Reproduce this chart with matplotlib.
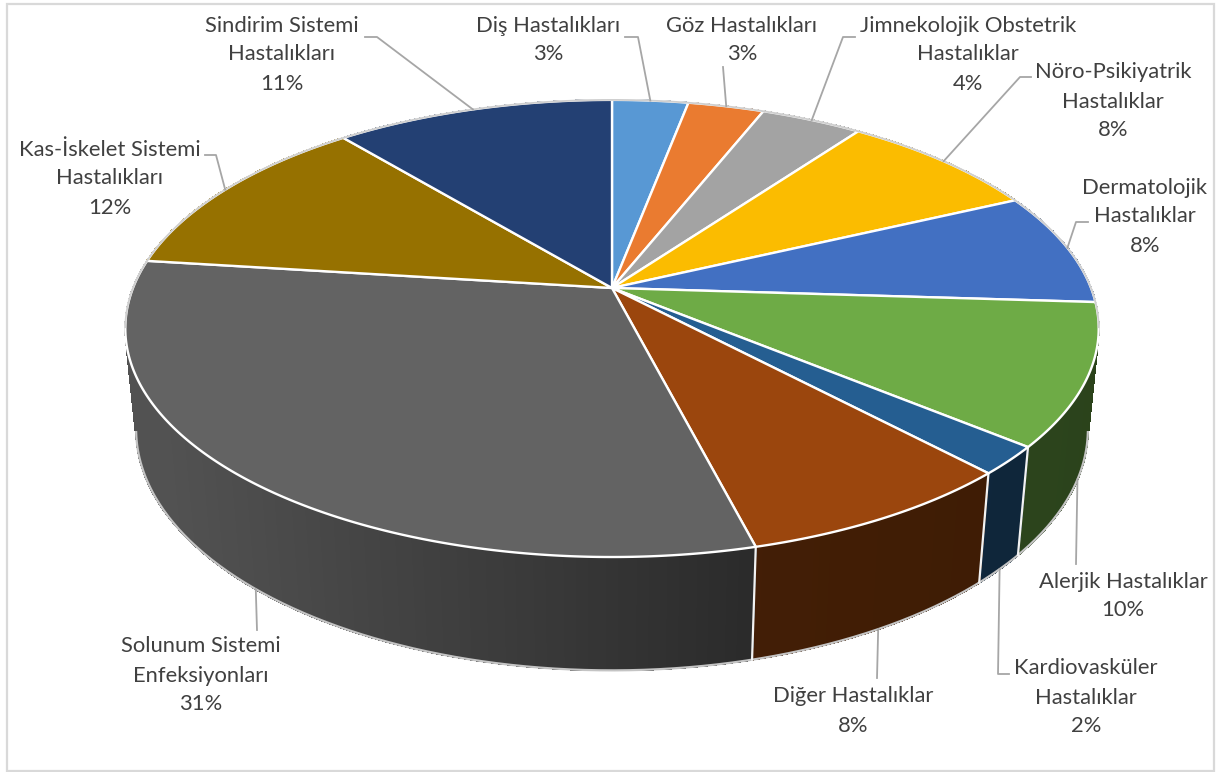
################################################################################
# 3D PIE CHART, DRAWN WITH A SMALL PERSPECTIVE PROJECTION
################################################################################

import numpy as np
from matplotlib import pyplot as plt
from matplotlib.collections import PolyCollection
from matplotlib.patches import Polygon, Rectangle
from matplotlib.colors import to_rgb

plt.rcParams['font.family'] = ['Lato', 'DejaVu Sans']

# DATA
labels = ["Diş Hastalıkları", "Göz Hastalıkları",
          "Jimnekolojik Obstetrik\nHastalıklar", "Nöro-Psikiyatrik\nHastalıklar",
          "Dermatolojik\nHastalıklar", "Alerjik Hastalıklar",
          "Kardiovasküler\nHastalıklar", "Diğer Hastalıklar",
          "Solunum Sistemi\nEnfeksiyonları", "Kas-İskelet Sistemi\nHastalıkları",
          "Sindirim Sistemi\nHastalıkları"]
values = [3, 3, 4, 8, 8, 10, 2, 8, 31, 12, 11]
colors = ["#5898D4", "#EA7B30", "#A3A3A3", "#FBBC00", "#4270C2", "#6EAB46",
          "#255E91", "#9B460D", "#636363", "#967100", "#234073"]

# LAYOUT (pixels of the picture)
label_pos = [(548, 25.5), (742, 25.5), (968, 25.5), (1113, 72.5), (1145, 187.5), (1123, 581.5),
             (1086, 668.5), (853, 696.5), (201, 646.5), (110, 149.5), (282, 25.5)]
# leader line points, going away from the pie
leader_pts = [[(638, 37), (625, 37)], [(723, 67)], [(843, 37), (855, 37)],
              [(1020, 77), (1031, 77)], [(1076, 222), (1088, 222)], [(1076, 564)],
              [(998, 674), (1009, 674)], [(877, 678)], [(257, 630)],
              [(216, 155), (205, 155)], [(377, 37), (365, 37)]]
line_step = 29
cx, cy = 612., 288.
f_x, f_y = 479., 221.4  # horizontal scale, vertical scale of the top face
persp = 0.177           # perspective along the depth
drop = 101.7            # height of the side on screen
persp_z = 0.022         # perspective along the height
shade_x = [170, 750, 1100]
shade_f = [0.83, 0.43, 0.39]


def project(theta, bottom=False):
    # theta is clockwise from the back of the pie, in radians
    X, Y = np.sin(theta), -np.cos(theta)
    w = 1. - persp * Y + (persp_z if bottom else 0.)
    return cx + f_x * X / w, cy + (f_y * Y + (drop if bottom else 0.)) / w


def shaded(color, x):
    return tuple(np.array(to_rgb(color)) * np.interp(x, shade_x, shade_f))


fig = plt.figure(figsize=(12.17, 7.72), dpi=100)
ax = fig.add_axes([0, 0, 1, 1])
ax.set_xlim(0, 1217)
ax.set_ylim(772, 0)
ax.axis("off")

ax.add_patch(Rectangle((7, 4), 1207, 767, fill=False, edgecolor="#D9D9D9", lw=1.6))

edges = np.cumsum([0] + values) / float(sum(values)) * 2 * np.pi
mids = (edges[:-1] + edges[1:]) / 2.

# SIDE WALL
for i, color in enumerate(colors):
    t = np.linspace(edges[i], edges[i + 1], max(2, values[i] * 6))
    xt, yt = project(t)
    xb, yb = project(t, True)
    strips = []
    strip_colors = []
    for k in range(len(t) - 1):
        strips.append([(xt[k], yt[k]), (xt[k + 1], yt[k + 1]), (xb[k + 1], yb[k + 1]), (xb[k], yb[k])])
        strip_colors.append(shaded(color, (xb[k] + xb[k + 1]) / 2.))
    ax.add_collection(PolyCollection(strips, facecolors=strip_colors, edgecolors=strip_colors,
                                     lw=0.8, antialiased=False, zorder=2))

# outline of the wall
t = np.linspace(0, 2 * np.pi, 720)
xb, yb = project(t, True)
front = -np.cos(t) > persp
ax.plot(xb[front], yb[front], color="#C4C4C4", lw=1.6, zorder=3)

# vertical separators on the wall
for e in edges:
    if -np.cos(e) > persp:
        xt, yt = project(e)
        xb, yb = project(e, True)
        ax.plot([xt, xb], [yt, yb], color="#F2F2F2", lw=1.6, zorder=4)

# TOP FACE
for i, color in enumerate(colors):
    t = np.linspace(edges[i], edges[i + 1], max(2, values[i] * 12))
    xt, yt = project(t)
    pts = [(cx, cy)] + list(zip(xt, yt))
    ax.add_patch(Polygon(pts, closed=True, facecolor=color, edgecolor="white", lw=1.7, joinstyle="round", zorder=5))

# back edge is thin grey, front edge stays white (angles run through the back)
t = np.linspace(-np.pi, np.pi, 720)
back = -np.cos(t) < persp
xt, yt = project(t)
ax.plot(xt[back], yt[back], color="#CFCFCF", lw=1.3, zorder=6)

# LEADER LINES AND LABELS
for i, label in enumerate(labels):
    # slices in front touch the line on the lower rim
    x0, y0 = project(mids[i], -np.cos(mids[i]) > persp)
    xs = [x0] + [p[0] for p in leader_pts[i]]
    ys = [y0] + [p[1] for p in leader_pts[i]]
    ax.plot(xs, ys, color="#A6A6A6", lw=1.3, zorder=7)
    x, y = label_pos[i]
    lines = label.split("\n") + ["%d%%" % values[i]]
    for k, line in enumerate(lines):
        ax.text(x, y + k * line_step, line, ha="center", va="center", fontsize=15.8, color="#404040", zorder=8)

plt.savefig("out.png", dpi=100, facecolor="white")
plt.close("all")
